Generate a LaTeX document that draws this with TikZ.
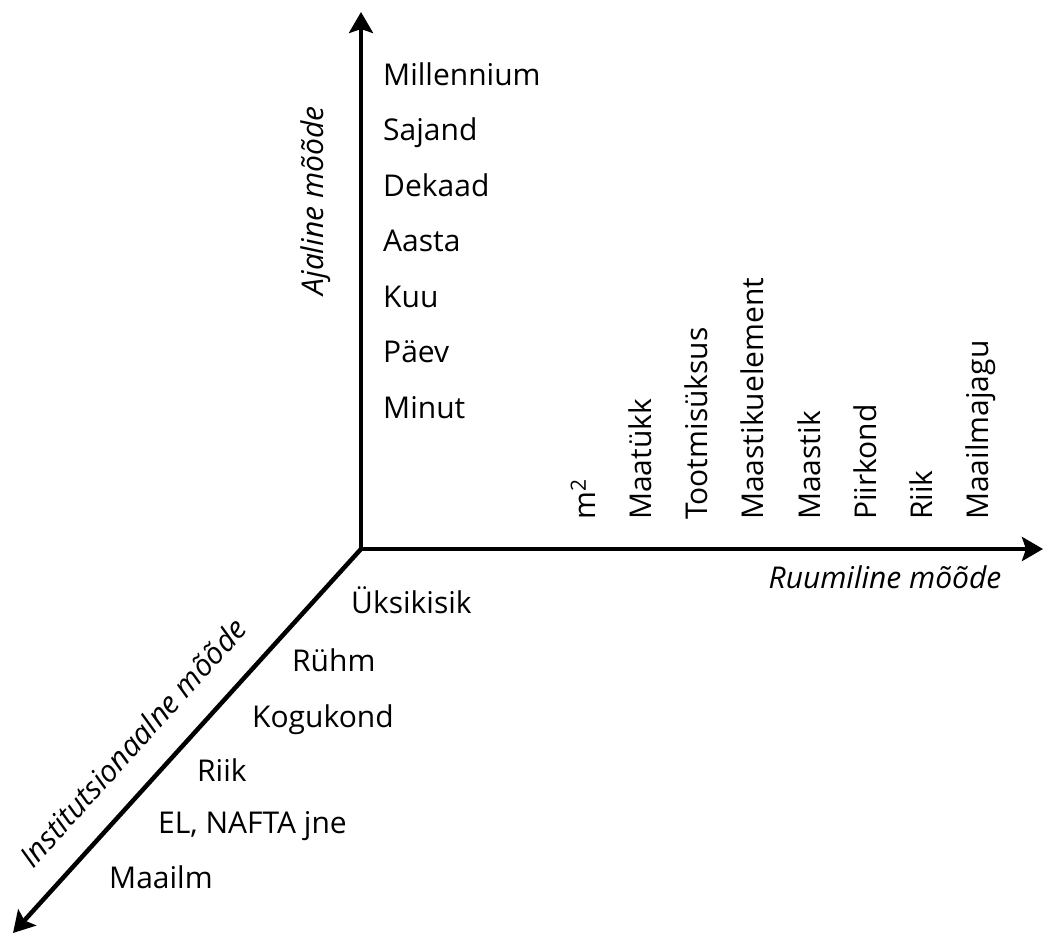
\documentclass[tikz,border=0pt]{standalone}
\usepackage{fontspec}
\setmainfont{Open Sans}
\usetikzlibrary{arrows.meta}
\begin{document}
\begin{tikzpicture}[x=1pt,y=-1pt,
  axisline/.style={line width=4.5pt},
  lbl/.style={font=\fontsize{30}{34}\selectfont, inner sep=0pt},
  vlbl/.style={lbl, rotate=90, anchor=base west},
  hlbl/.style={lbl, anchor=base west},
  axlbl/.style={font=\fontsize{30}{34}\selectfont\itshape, inner sep=0pt, anchor=base}]
\useasboundingbox (0,0) rectangle (1044,935);
\coordinate (O) at (361,549);
\coordinate (T) at (361,12);
\coordinate (R) at (1043,549);
\coordinate (D) at (13,933);
\draw[axisline, {Stealth[length=21pt,width=24pt,inset=4pt]}-{Stealth[length=21pt,width=24pt,inset=4pt]}, line join=miter] (T) -- (O) -- (R);
\draw[axisline, -{Stealth[length=21pt,width=24pt,inset=4pt]}] (O) -- (D);
% time axis
\node[hlbl] (t1) at (383,85) {Millennium};
\node[hlbl] (t2) at (383,140.5) {Sajand};
\node[hlbl] (t3) at (383,196) {Dekaad};
\node[hlbl] (t4) at (383,251.5) {Aasta};
\node[hlbl] (t5) at (383,307) {Kuu};
\node[hlbl] (t6) at (383,362.5) {Päev};
\node[hlbl] (t7) at (383,418) {Minut};
% space axis
\node[vlbl] (s1) at (595,520) {m\textsuperscript{2}};
\node[vlbl] (s2) at (651,520) {Maatükk};
\node[vlbl] (s3) at (707,520) {Tootmisüksus};
\node[vlbl] (s4) at (763,520) {Maastikuelement};
\node[vlbl] (s5) at (820,520) {Maastik};
\node[vlbl] (s6) at (876,520) {Piirkond};
\node[vlbl] (s7) at (932,520) {Riik};
\node[vlbl] (s8) at (988,520) {Maailmajagu};
% institutional axis
\node[hlbl] (i1) at (351,613) {Üksikisik};
\node[hlbl] (i2) at (292,671) {Rühm};
\node[hlbl] (i3) at (252,727) {Kogukond};
\node[hlbl] (i4) at (197,781) {Riik};
\node[hlbl] (i5) at (158,833) {EL, NAFTA jne};
\node[hlbl] (i6) at (109,888) {Maailm};
% axis titles
\node[axlbl, rotate=90] (ta) at (323,201) {Ajaline mõõde};
\node[axlbl] (sa) at (885,588) {Ruumiline mõõde};
\node[axlbl, rotate=47.9] (ia) at (141,750) {Institutsionaalne mõõde};
\end{tikzpicture}
\end{document}
